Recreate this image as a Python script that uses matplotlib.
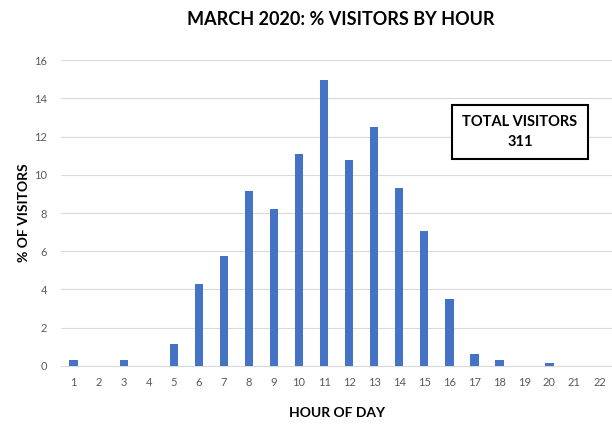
import matplotlib
matplotlib.use('Agg')
import matplotlib.pyplot as plt

plt.rcParams['font.family'] = ['Lato', 'DejaVu Sans']

# hours of day and share of visitors (%)
hours = list(range(1, 23))
pct_visitors = [0.32, 0, 0.32, 0, 1.13, 4.3, 5.75, 9.15, 8.2, 11.1, 14.95,
                10.75, 12.5, 9.3, 7.05, 3.5, 0.65, 0.32, 0, 0.15, 0, 0]
y_ticks = [0, 2, 4, 6, 8, 10, 12, 14, 16]
total_visitors = 311

fig = plt.figure(figsize=(6.12, 4.26), dpi=100)
ax = fig.add_axes([0.1, 0.141, 0.9, 0.718])

ax.bar(hours, pct_visitors, width=0.34, color='#4472C4', zorder=3)

ax.set_xlim(0.5, 22.5)
ax.set_ylim(0, 16)
ax.set_xticks(hours)
ax.set_yticks(y_ticks)
ax.tick_params(axis='both', length=0, labelsize=8, labelcolor='#595959')
ax.tick_params(axis='x', pad=8)
ax.tick_params(axis='y', pad=10)
ax.grid(axis='y', color='#D9D9D9', linewidth=0.8, zorder=0)
for side in ['top', 'right', 'left']:
    ax.spines[side].set_visible(False)
ax.spines['bottom'].set_color('#D9D9D9')

ax.set_xlabel('HOUR OF DAY', fontsize=10, fontweight='bold', labelpad=14)
ax.set_ylabel('% OF VISITORS', fontsize=10, fontweight='bold', labelpad=3)
fig.text(0.557, 0.955, 'MARCH 2020: % VISITORS BY HOUR', ha='center', va='center',
         fontsize=13, fontweight='bold')

ax.text(0.833, 0.765, 'TOTAL VISITORS\n' + str(total_visitors), transform=ax.transAxes,
        ha='center', va='center', fontsize=10.5, fontweight='bold', linespacing=1.5,
        bbox=dict(boxstyle='square,pad=0.7', facecolor='white', edgecolor='black',
                  linewidth=1.5), zorder=5)

fig.savefig('out.png', dpi=100)
